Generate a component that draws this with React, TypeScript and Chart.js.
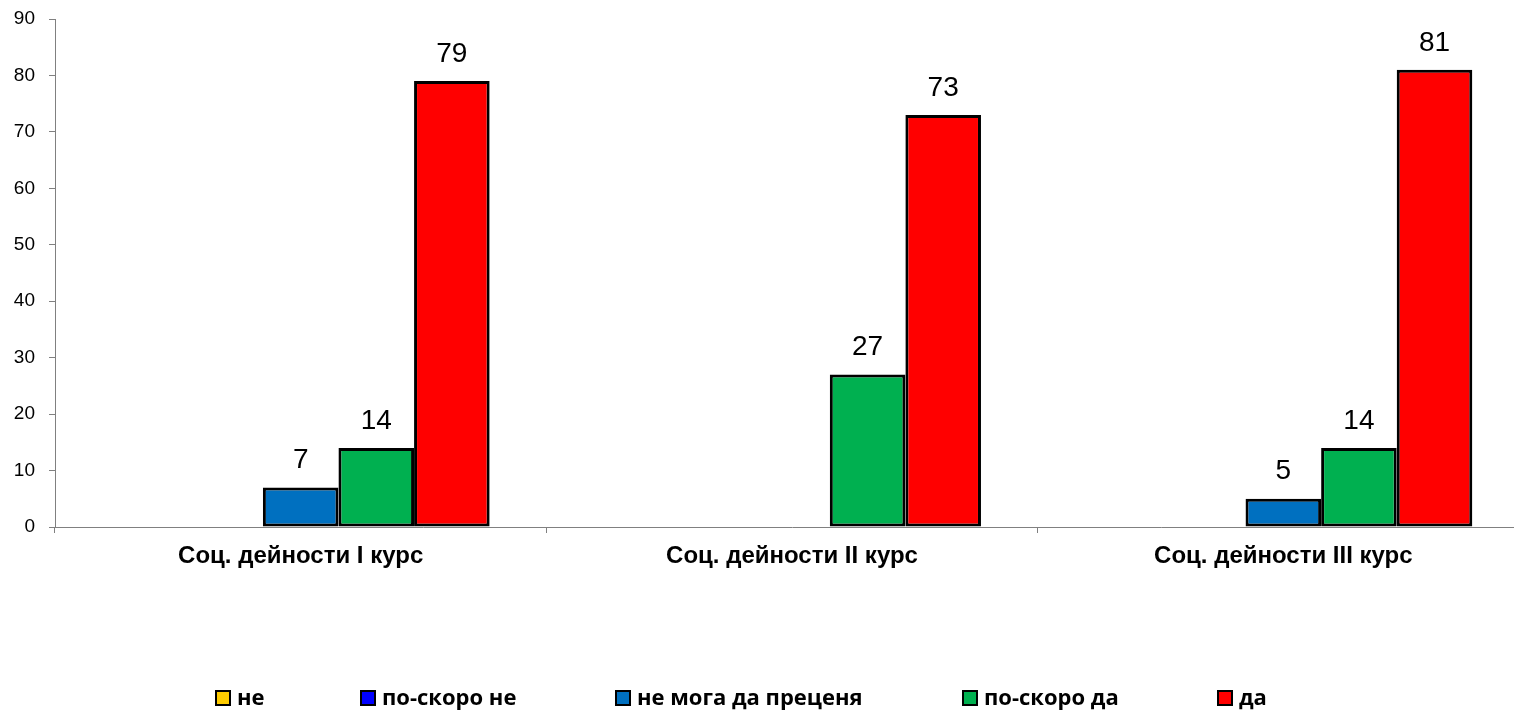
import React, { useEffect, useRef } from "react";
import { Chart, registerables } from "chart.js";

Chart.register(...registerables);

const categories = [
  "Соц. дейности I курс",
  "Соц. дейности II курс",
  "Соц. дейности III курс",
];
const seriesNames = ["не", "по-скоро не", "не мога да преценя", "по-скоро да", "да"];
const seriesColors = ["#FFCC00", "#0000FF", "#0070C0", "#00B050", "#FF0000"];
const valuesNe = [0, 0, 0];
const valuesPoSkoroNe = [0, 0, 0];
const valuesNeMoga = [7, 0, 5];
const valuesPoSkoroDa = [14, 27, 14];
const valuesDa = [79, 73, 81];
const yTicks = [0, 10, 20, 30, 40, 50, 60, 70, 80, 90];

const seriesValues = [valuesNe, valuesPoSkoroNe, valuesNeMoga, valuesPoSkoroDa, valuesDa];

const valueLabelPlugin = {
  id: "valueLabels",
  afterDatasetsDraw(chart: any) {
    const ctx = chart.ctx;
    ctx.save();
    ctx.font = "28px 'Liberation Sans', Arial, sans-serif";
    ctx.fillStyle = "#000";
    ctx.textAlign = "center";
    ctx.textBaseline = "bottom";
    chart.data.datasets.forEach((ds: any, i: number) => {
      const meta = chart.getDatasetMeta(i);
      meta.data.forEach((bar: any, j: number) => {
        const v = ds.data[j];
        if (!v) return;
        ctx.fillText(String(v), bar.x, bar.y - 13);
      });
    });
    ctx.restore();
  },
};

const legendPlugin = {
  id: "customLegend",
  afterDraw(chart: any) {
    const ctx = chart.ctx;
    const lefts = [215, 360, 615, 962, 1217];
    ctx.save();
    ctx.font = "bold 22px 'Open Sans', sans-serif";
    ctx.textBaseline = "middle";
    ctx.textAlign = "left";
    chart.data.datasets.forEach((ds: any, i: number) => {
      const x = lefts[i] + 1;
      const y = 691;
      ctx.fillStyle = ds.backgroundColor;
      ctx.fillRect(x, y, 14, 14);
      ctx.lineWidth = 2;
      ctx.strokeStyle = "#000";
      ctx.strokeRect(x, y, 14, 14);
      ctx.fillStyle = "#000";
      ctx.fillText(ds.label, x + 21, y + 8);
    });
    ctx.restore();
  },
};

export default function App() {
  const ref = useRef<HTMLCanvasElement>(null);
  useEffect(() => {
    if (!ref.current) return;
    const chart = new Chart(ref.current, {
      type: "bar",
      data: {
        labels: categories,
        datasets: seriesNames.map((name, i) => ({
          label: name,
          data: seriesValues[i],
          backgroundColor: seriesColors[i],
          borderColor: "#000",
          borderWidth: 3,
          borderSkipped: false,
          categoryPercentage: 5 / 6.5,
          barPercentage: 1,
        })),
      },
      options: {
        animation: false,
        responsive: false,
        layout: { padding: { top: 19, right: 11, left: 0, bottom: 0 } },
        plugins: {
          legend: { display: false },
          tooltip: { enabled: false },
        },
        scales: {
          x: {
            grid: {
              display: true,
              drawOnChartArea: false,
              offset: true,
              tickLength: 6,
              color: "#808080",
            },
            border: { color: "#808080", width: 1 },
            ticks: {
              color: "#000",
              font: { family: "'Liberation Sans', Arial, sans-serif", size: 24, weight: "bold" },
              padding: 9,
              maxRotation: 0,
            },
            afterFit(scale: any) {
              scale.height = 184;
              scale.paddingLeft = 0;
              scale.paddingRight = 0;
            },
          },
          y: {
            min: 0,
            max: 90,
            afterBuildTicks(scale: any) {
              scale.ticks = yTicks.map((v) => ({ value: v }));
            },
            grid: {
              display: true,
              drawOnChartArea: false,
              tickLength: 6,
              color: "#808080",
            },
            border: { color: "#808080", width: 1 },
            ticks: {
              color: "#000",
              font: { family: "'Liberation Sans', Arial, sans-serif", size: 19 },
              padding: 14,
            },
            afterFit(scale: any) {
              scale.width = 55;
              scale.paddingTop = 0;
              scale.paddingBottom = 0;
            },
          },
        },
      },
      plugins: [valueLabelPlugin, legendPlugin],
    });
    return () => chart.destroy();
  }, []);
  return (
    <div
      style={{
        position: "absolute",
        left: 0,
        top: 0,
        width: 1514,
        height: 711,
        overflow: "hidden",
        background: "#fff",
      }}
    >
      <canvas ref={ref} width={1540} height={711} style={{ width: 1540, height: 711 }} />
    </div>
  );
}
